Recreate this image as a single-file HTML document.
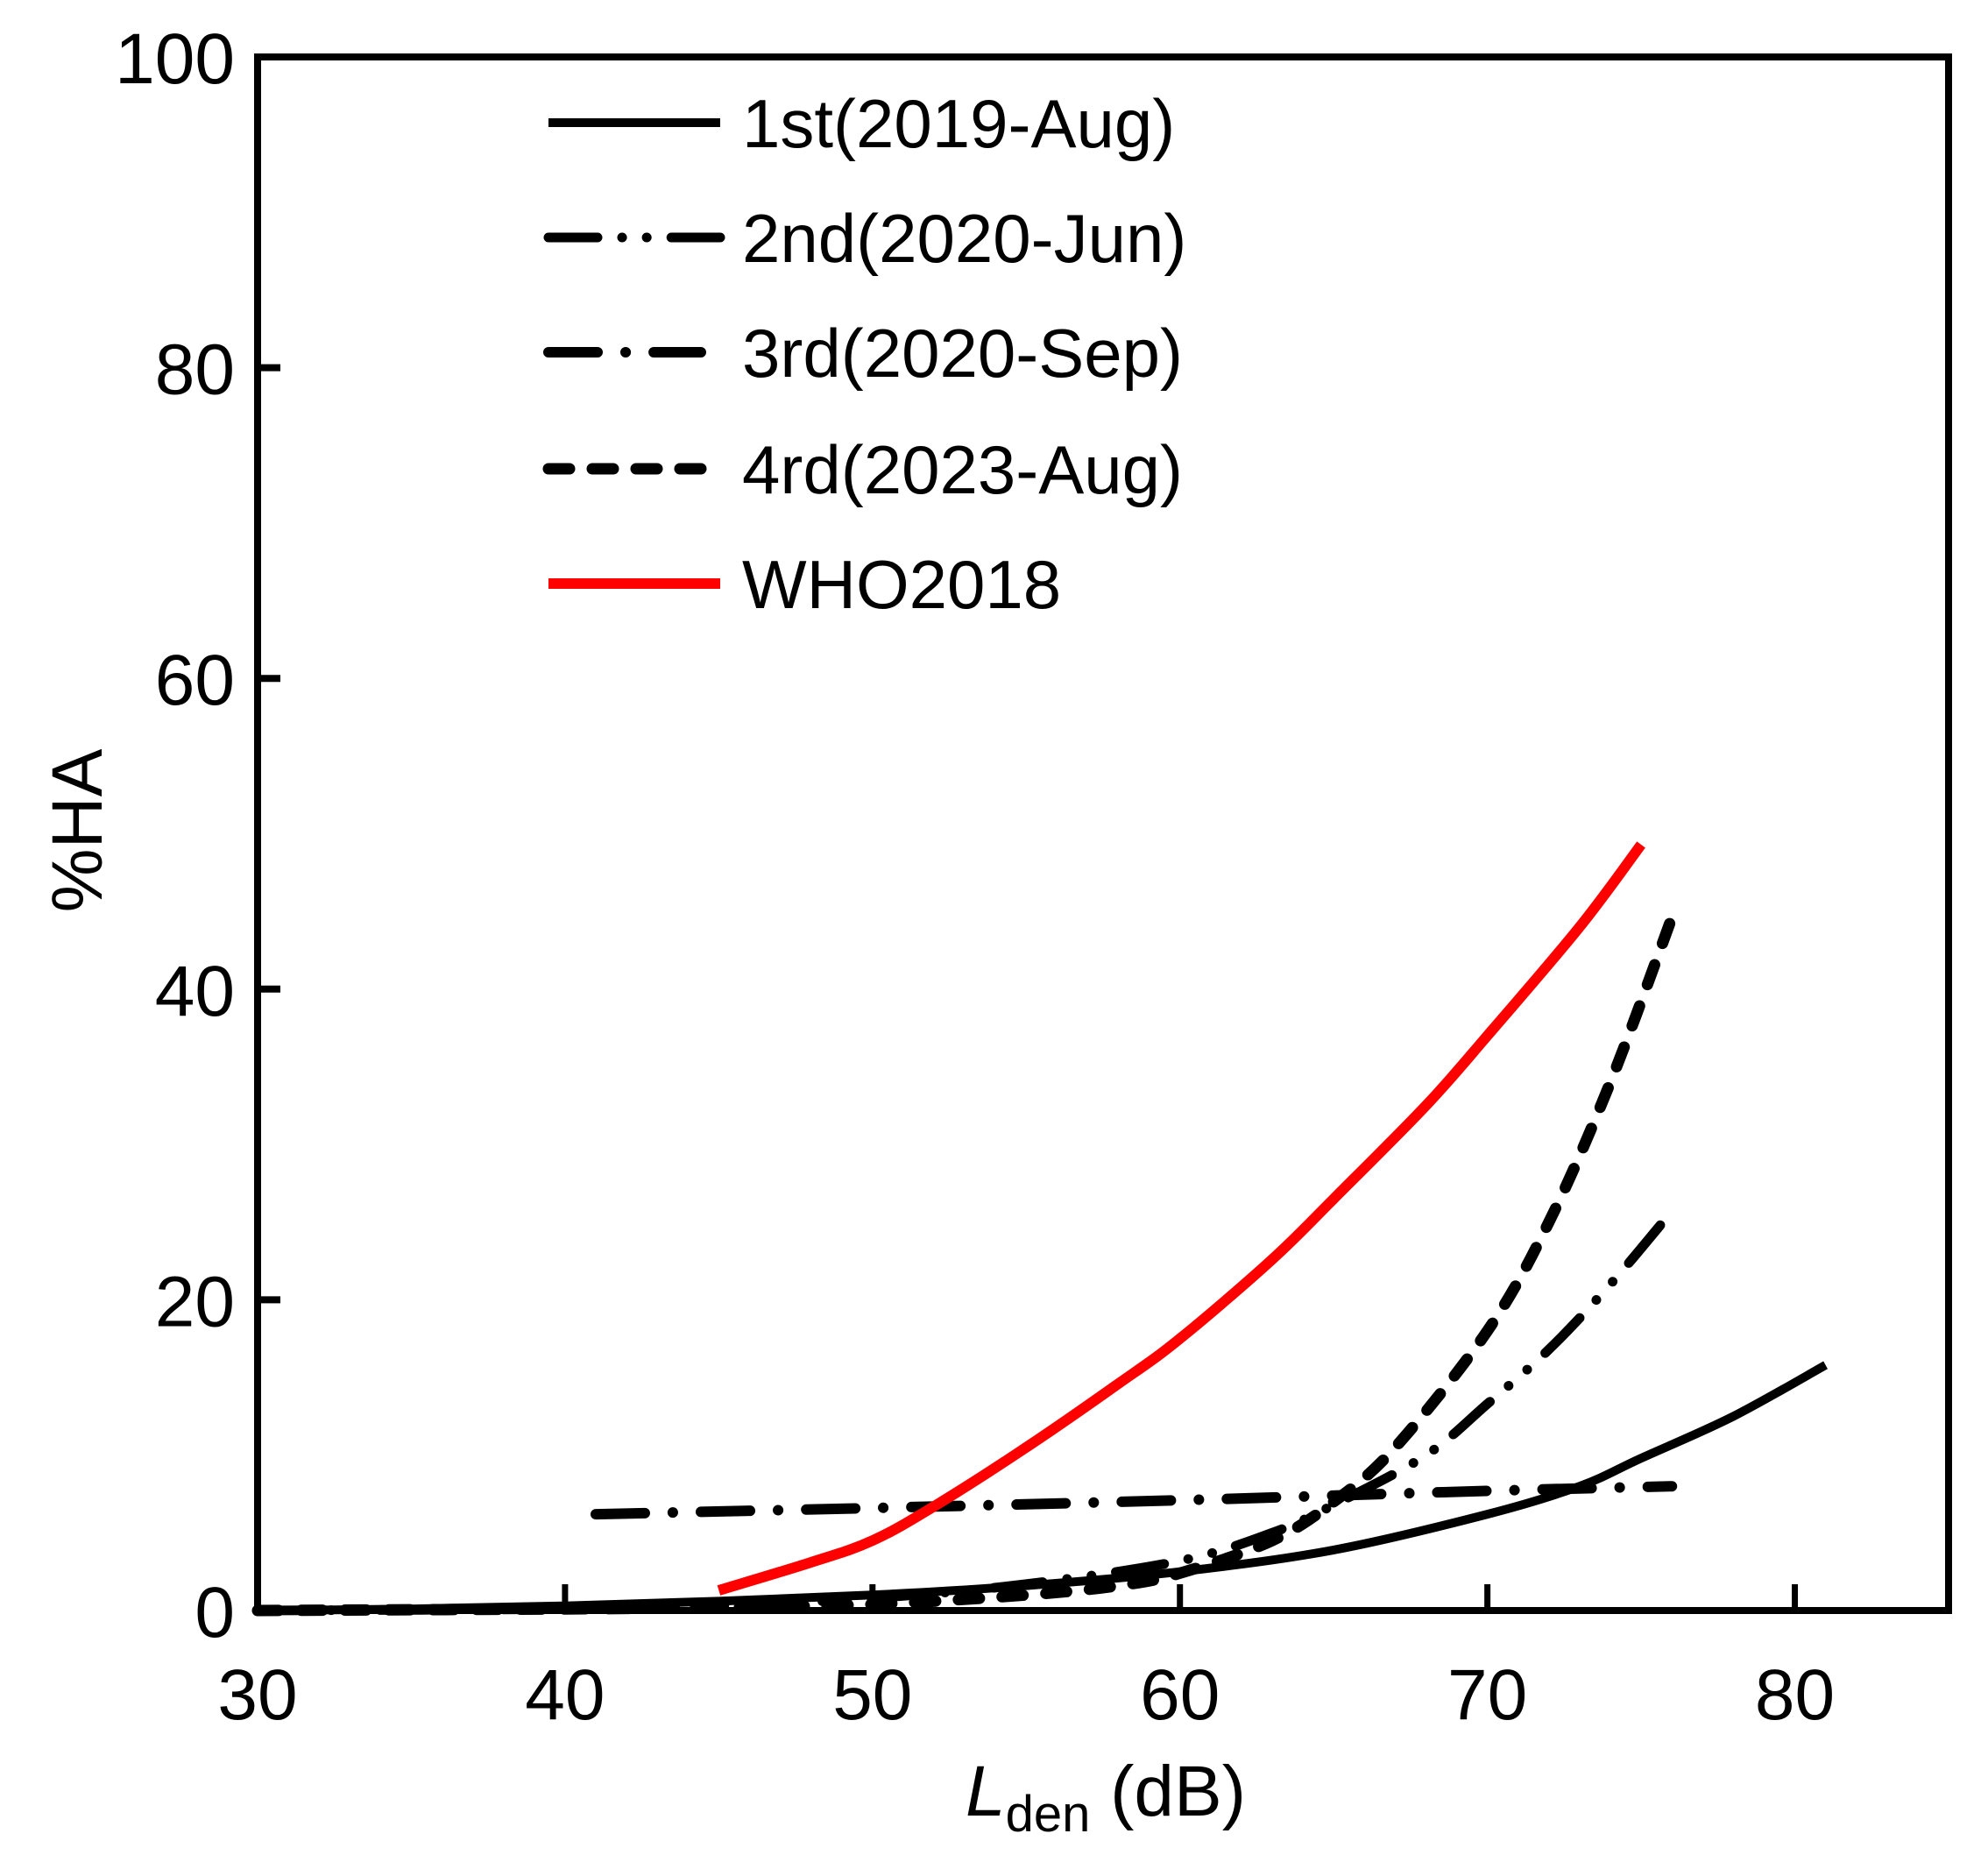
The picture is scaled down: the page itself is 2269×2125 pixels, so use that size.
<!DOCTYPE html>
<html><head><meta charset="utf-8"><style>
html,body{margin:0;padding:0;background:#fff;}
svg{display:block;font-family:"Liberation Sans",Arial,sans-serif;}
</style></head><body>
<svg id="chart" width="2269" height="2125" viewBox="0 0 2269 2125" xmlns="http://www.w3.org/2000/svg">
<rect x="0" y="0" width="2269" height="2125" fill="#fff"/>
<g id="series"></g>
<g id="axes"></g>
<g id="legend"></g>
<text x="0" y="0" transform="translate(116,948) rotate(-90)" text-anchor="middle" font-size="82">%HA</text>
<text x="1262" y="2072" text-anchor="middle" font-size="82"><tspan font-style="italic">L</tspan><tspan font-size="58" dy="18">den</tspan><tspan dy="-18"> (dB)</tspan></text>
</svg>
<script>
const xTicks = [30, 40, 50, 60, 70, 80];
const yTicks = [0, 20, 40, 60, 80, 100];
const s1x = [30, 35, 40, 45, 50, 55, 60, 65, 70, 73, 75, 78, 81];
const s1y = [0, 0.1, 0.3, 0.6, 1.0, 1.6, 2.5, 3.9, 6.2, 8.0, 9.8, 12.5, 15.8];
const s2x = [30, 40, 45, 50, 55, 60, 63, 65, 68, 70, 72, 74, 76];
const s2y = [0, 0.1, 0.3, 0.8, 1.7, 3.2, 5.0, 6.8, 10.0, 13.3, 16.8, 21.0, 25.7];
const s3x = [41, 50, 60, 70, 76];
const s3y = [6.2, 6.6, 7.1, 7.7, 8.0];
const s4x = [30, 40, 45, 50, 55, 58, 60, 63, 65, 67, 70, 72, 74, 76];
const s4y = [0, 0.1, 0.2, 0.4, 1.0, 1.6, 2.4, 4.5, 7.0, 10.5, 18.0, 25.0, 34.0, 44.6];
const whoX = [45, 48, 50, 52, 55, 58, 60, 63, 65, 68, 70, 73, 75];
const whoY = [1.3, 3.1, 4.5, 6.7, 10.5, 14.6, 17.5, 22.6, 26.5, 32.5, 37.0, 44.0, 49.3];
const legendLabels = ["1st(2019-Aug)", "2nd(2020-Jun)", "3rd(2020-Sep)", "4rd(2023-Aug)", "WHO2018"];

const L = 294, R = 2224, T = 65, B = 1838;
const X0 = 30, X1 = 85, Y0 = 0, Y1 = 100;
function sx(v){ return L + (v - X0) / (X1 - X0) * (R - L); }
function sy(v){ return B - (v - Y0) / (Y1 - Y0) * (B - T); }
const NS = "http://www.w3.org/2000/svg";
function mk(tag, attrs, parent){ const e = document.createElementNS(NS, tag); for (const k in attrs) e.setAttribute(k, attrs[k]); parent.appendChild(e); return e; }

const styles = [
  {stroke:"#000", w:10, dash:""},
  {stroke:"#000", w:11, dash:"56 28 0.1 28 0.1 28"},
  {stroke:"#000", w:12, dash:"56 32 0.1 32"},
  {stroke:"#000", w:13, dash:"24 26"},
  {stroke:"#ff0000", w:12, dash:""}
];
const seriesData = [[s1x,s1y],[s2x,s2y],[s3x,s3y],[s4x,s4y],[whoX,whoY]];
const seriesNames = ["series-1st-2019-aug","series-2nd-2020-jun","series-3rd-2020-sep","series-4rd-2023-aug","series-who2018"];

const gS = document.getElementById("series");
seriesData.forEach((d, i) => {
  const xs = d[0], ys = d[1];
  const pts = xs.map((x, k) => [sx(x), sy(ys[k])]);
  let p = "M" + pts[0][0].toFixed(1) + "," + pts[0][1].toFixed(1);
  for (let k = 0; k < pts.length - 1; k++) {
    const p0 = pts[Math.max(0,k-1)], p1 = pts[k], p2 = pts[k+1], p3 = pts[Math.min(pts.length-1,k+2)];
    const c1 = [p1[0] + (p2[0]-p0[0])/6, p1[1] + (p2[1]-p0[1])/6];
    const c2 = [p2[0] - (p3[0]-p1[0])/6, p2[1] - (p3[1]-p1[1])/6];
    p += " C" + c1.map(v=>v.toFixed(1)).join(",") + " " + c2.map(v=>v.toFixed(1)).join(",") + " " + p2.map(v=>v.toFixed(1)).join(",");
  }
  const st = styles[i];
  const el = mk("path", {d:p, fill:"none", stroke:st.stroke, "stroke-width":st.w, "stroke-linecap": st.dash ? "round" : "butt", "stroke-dasharray": st.dash || "none"}, gS);
  
  
});

const gA = document.getElementById("axes");
const frame = mk("rect", {x:L, y:T, width:R-L, height:B-T, fill:"none", stroke:"#000", "stroke-width":8}, gA);


xTicks.forEach(v => {
  const t = mk("line", {x1:sx(v), x2:sx(v), y1:B, y2:B-30, stroke:"#000", "stroke-width":7}, gA);
  
  
  const lb = mk("text", {x:sx(v), y:1962, "text-anchor":"middle", "font-size":82}, gA);
  lb.textContent = v;
  
  
});
yTicks.forEach(v => {
  const t = mk("line", {x1:L, x2:L+26, y1:sy(v), y2:sy(v), stroke:"#000", "stroke-width":8}, gA);
  
  
  const lb = mk("text", {x:268, y:sy(v)+30, "text-anchor":"end", "font-size":82}, gA);
  lb.textContent = v;
  
  
});

const gL = document.getElementById("legend");
const legY = [140, 271, 402, 535, 666];
legendLabels.forEach((lab, i) => {
  const st = styles[i];
  const g = mk("g", {}, gL);
  
  
  const ln = mk("line", {x1:626, x2: i===2 ? 800 : 822, y1:legY[i], y2:legY[i], stroke:st.stroke, "stroke-width":st.w, "stroke-linecap": st.dash ? "round":"butt", "stroke-dasharray": st.dash || "none"}, g);
  
  
  const tx = mk("text", {x:847, y:legY[i]+28, "font-size":78}, g);
  tx.textContent = lab;
  
  
});
</script>
</body></html>
